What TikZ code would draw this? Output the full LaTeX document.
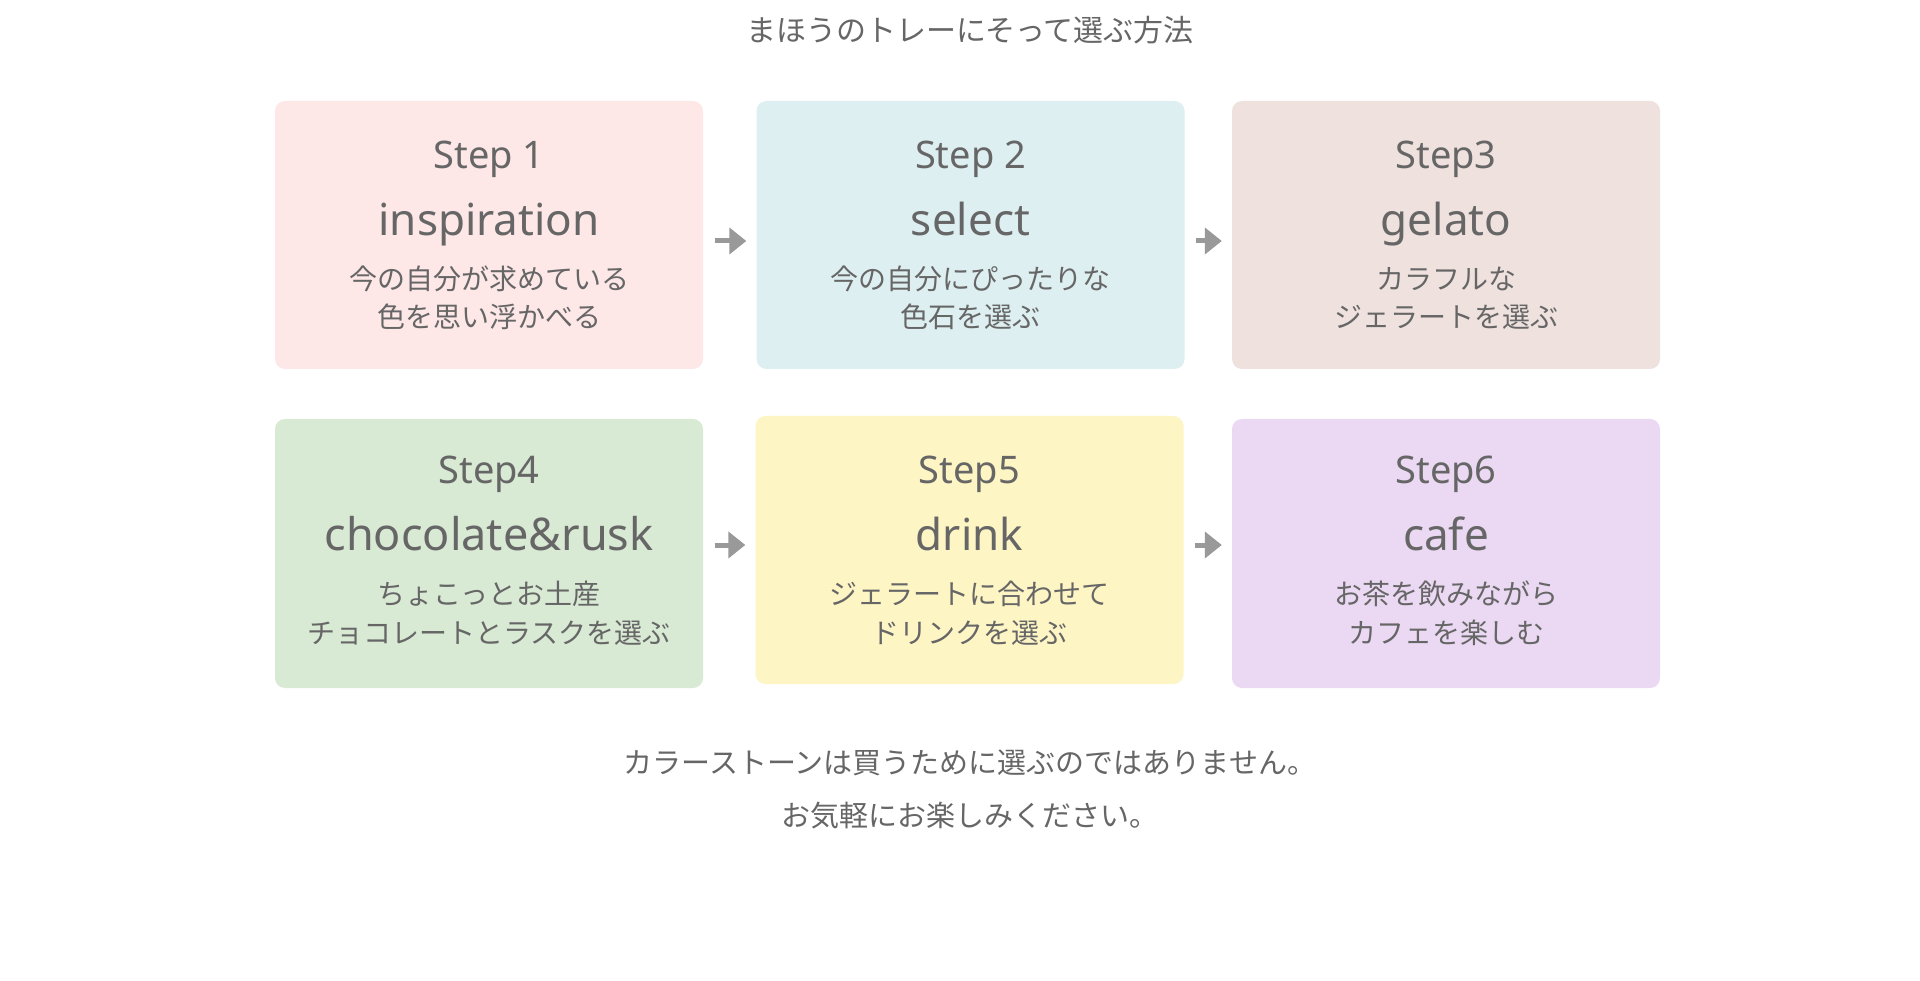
\documentclass[tikz,border=0pt]{standalone}
\usepackage{fontspec}
\setmainfont{Noto Sans}
\newfontfamily\jp{Noto Sans CJK JP}
\usetikzlibrary{arrows.meta}
\definecolor{txt}{HTML}{666666}
\definecolor{arrowgray}{HTML}{999999}
\definecolor{cA}{HTML}{FDE7E7}
\definecolor{cB}{HTML}{DEEFF1}
\definecolor{cC}{HTML}{EFE1DE}
\definecolor{cD}{HTML}{D8E9D4}
\definecolor{cE}{HTML}{FEF5C5}
\definecolor{cF}{HTML}{EBD9F3}
\begin{document}
\begin{tikzpicture}[x=1pt,y=-1pt,
  stepbox/.style={rounded corners=10pt, minimum width=428pt, minimum height=268pt, inner sep=0pt, draw=none},
  steplbl/.style={anchor=base, text=txt, font=\fontsize{38}{38}\selectfont, inner sep=0pt},
  mainlbl/.style={anchor=base, text=txt, font=\fontsize{44}{44}\selectfont, inner sep=0pt},
  jplbl/.style={anchor=base, text=txt, font=\jp\fontsize{28}{28}\selectfont, inner sep=0pt},
  titlelbl/.style={anchor=base, text=txt, font=\jp\fontsize{30}{30}\selectfont, inner sep=0pt},
  notelbl/.style={anchor=base, text=txt, font=\jp\fontsize{29}{29}\selectfont, inner sep=0pt},
  arr/.style={draw=arrowgray, line width=5pt, -{Triangle[length=17pt,width=26pt]}, shorten <=11.5pt, shorten >=10pt}]
\useasboundingbox[fill=white] (0,0) rectangle (1920,981);

\node[titlelbl] (title) at (970,42) {まほうのトレーにそって選ぶ方法};

% boxes
\node[stepbox, fill=cA] (b1) at (489,235) {};
\node[stepbox, fill=cB] (b2) at (970.5,235) {};
\node[stepbox, fill=cC] (b3) at (1446,235) {};
\node[stepbox, fill=cD, minimum height=269pt] (b4) at (489,553.5) {};
\node[stepbox, fill=cE] (b5) at (969.5,550) {};
\node[stepbox, fill=cF, minimum height=269pt] (b6) at (1446,553.5) {};

% row 1 texts
\node[steplbl] (s1) at (489,169) {Step 1};
\node[mainlbl] (m1) at (489,236) {inspiration};
\node[jplbl] (j1a) at (489,290) {今の自分が求めている};
\node[jplbl] (j1b) at (489,328) {色を思い浮かべる};

\node[steplbl] (s2) at (970.5,169) {Step 2};
\node[mainlbl] (m2) at (970.5,236) {select};
\node[jplbl] (j2a) at (970.5,290) {今の自分にぴったりな};
\node[jplbl] (j2b) at (970.5,328) {色石を選ぶ};

\node[steplbl] (s3) at (1446,169) {Step3};
\node[mainlbl] (m3) at (1446,236) {gelato};
\node[jplbl] (j3a) at (1446,290) {カラフルな};
\node[jplbl] (j3b) at (1446,328) {ジェラートを選ぶ};

% row 2 texts
\node[steplbl] (s4) at (489,483) {Step4};
\node[mainlbl, font=\fontsize{45}{45}\selectfont] (m4) at (489,550) {chocolate\&rusk};
\node[jplbl] (j4a) at (489,604) {ちょこっとお土産};
\node[jplbl] (j4b) at (489,643) {チョコレートとラスクを選ぶ};

\node[steplbl] (s5) at (969.5,483) {Step5};
\node[mainlbl] (m5) at (969.5,550) {drink};
\node[jplbl] (j5a) at (969.5,604) {ジェラートに合わせて};
\node[jplbl] (j5b) at (969.5,643) {ドリンクを選ぶ};

\node[steplbl] (s6) at (1446,483) {Step6};
\node[mainlbl] (m6) at (1446,550) {cafe};
\node[jplbl] (j6a) at (1446,604) {お茶を飲みながら};
\node[jplbl] (j6b) at (1446,643) {カフェを楽しむ};

% arrows
\draw[arr] ([yshift=-6pt]b1.east) -- ([yshift=-6pt]b2.west);
\draw[arr] ([yshift=-6pt]b2.east) -- ([yshift=-6pt]b3.west);
\draw[arr] ([yshift=8.5pt]b4.east) -- ([yshift=5pt]b5.west);
\draw[arr] ([yshift=5pt]b5.east) -- ([yshift=8.5pt]b6.west);

% bottom note
\node[notelbl] (n1) at (970,773) {カラーストーンは買うために選ぶのではありません。};
\node[notelbl] (n2) at (970,826) {お気軽にお楽しみください。};
\end{tikzpicture}
\end{document}
